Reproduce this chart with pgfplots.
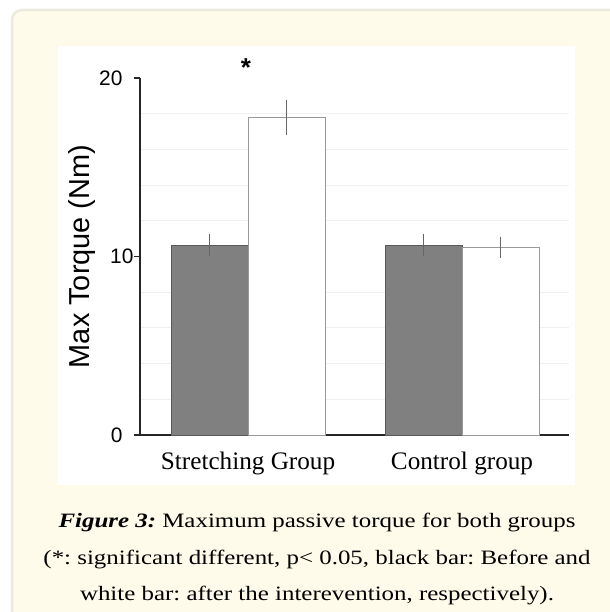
\documentclass[border=0pt]{standalone}
\usepackage{fontspec}
\setmainfont{Liberation Serif}
\newfontfamily\arial{Liberation Sans}
\newfontfamily\capfont[FakeStretch=1.22]{Liberation Serif}
\usepackage{pgfplots}
\pgfplotsset{compat=1.18}
\definecolor{cream}{HTML}{FFFBEA}
\definecolor{panelborder}{HTML}{ECE9DD}
\definecolor{darkbar}{HTML}{808080}
\frenchspacing
\begin{document}
\begin{tikzpicture}[x=1bp,y=1bp]
\useasboundingbox (0,0) rectangle (610,612);
\begin{scope}
\clip (0,0) rectangle (610,612);
\fill[white] (0,0) rectangle (610,612);
\draw[panelborder, line width=2.5bp, fill=cream, rounded corners=10bp] (12,602) rectangle (621,-40);
\fill[white] (58,566) rectangle (575,127);
\end{scope}
\coordinate (O) at (140,177);
\begin{axis}[
  at={(O)}, anchor=south west,
  width=429bp, height=357bp, scale only axis,
  xmin=-0.505, xmax=1.5, ymin=0, ymax=20,
  axis lines*=left,
  axis line style={line width=1.4bp, black!85},
  xtick={0,1}, xticklabels={Stretching Group, Control group},
  x tick style={draw=none},
  ytick={0,20},
  extra y ticks={10},
  extra y tick style={yticklabel style={xshift=11bp}},
  y tick style={line width=1.4bp, black!85},
  tick align=outside, major tick length=6bp,
  minor ytick={2,4,6,8,12,14,16,18},
  minor tick length=0pt,
  yminorgrids, minor grid style={black!6, line width=0.8bp},
  ylabel={Max Torque (Nm)},
  ylabel style={at={(axis description cs:-0.135,0.5)}, anchor=center, font=\arial\fontsize{29}{29}\selectfont},
  yticklabel style={font=\arial\fontsize{21}{21}\selectfont, xshift=-8bp},
  xticklabel style={font=\fontsize{25.3}{25.3}\selectfont, yshift=-7bp},
  /pgf/number format/assume math mode=true,
  clip=false,
]
\addplot[ybar, bar width=77bp, fill=darkbar, draw=black!65, line width=0.8bp,
  error bars/.cd, y dir=both, y explicit,
  error bar style={black!60, line width=1.1bp},
  error mark options={black!60, mark size=1.2bp, line width=1bp}]
  coordinates {(-0.18,10.64) +- (0,0.56) (0.82,10.64) +- (0,0.56)};
\addplot[ybar, bar width=77bp, fill=white, draw=black!40, line width=0.8bp,
  error bars/.cd, y dir=both, y explicit,
  error bar style={black!60, line width=1.1bp},
  error mark options={black!60, mark size=1.2bp, line width=1bp}]
  coordinates {(0.18,17.78) +- (0,0.91) (1.18,10.52) +- (0,0.53)};
\node[font=\arial\bfseries\fontsize{26}{26}\selectfont] at (axis cs:-0.01,20.6) {*};
\end{axis}
\begin{scope}[every node/.style={anchor=base, font=\capfont\fontsize{20.5}{20.5}\selectfont, inner sep=0pt}]
\node at (317,84) {\textbf{\textit{Figure 3:}} Maximum passive torque for both groups};
\node at (317,47.5) {(*: significant different, p< 0.05, black bar: Before and};
\node at (317,11) {white bar: after the interevention, respectively).};
\end{scope}
\end{tikzpicture}
\end{document}
